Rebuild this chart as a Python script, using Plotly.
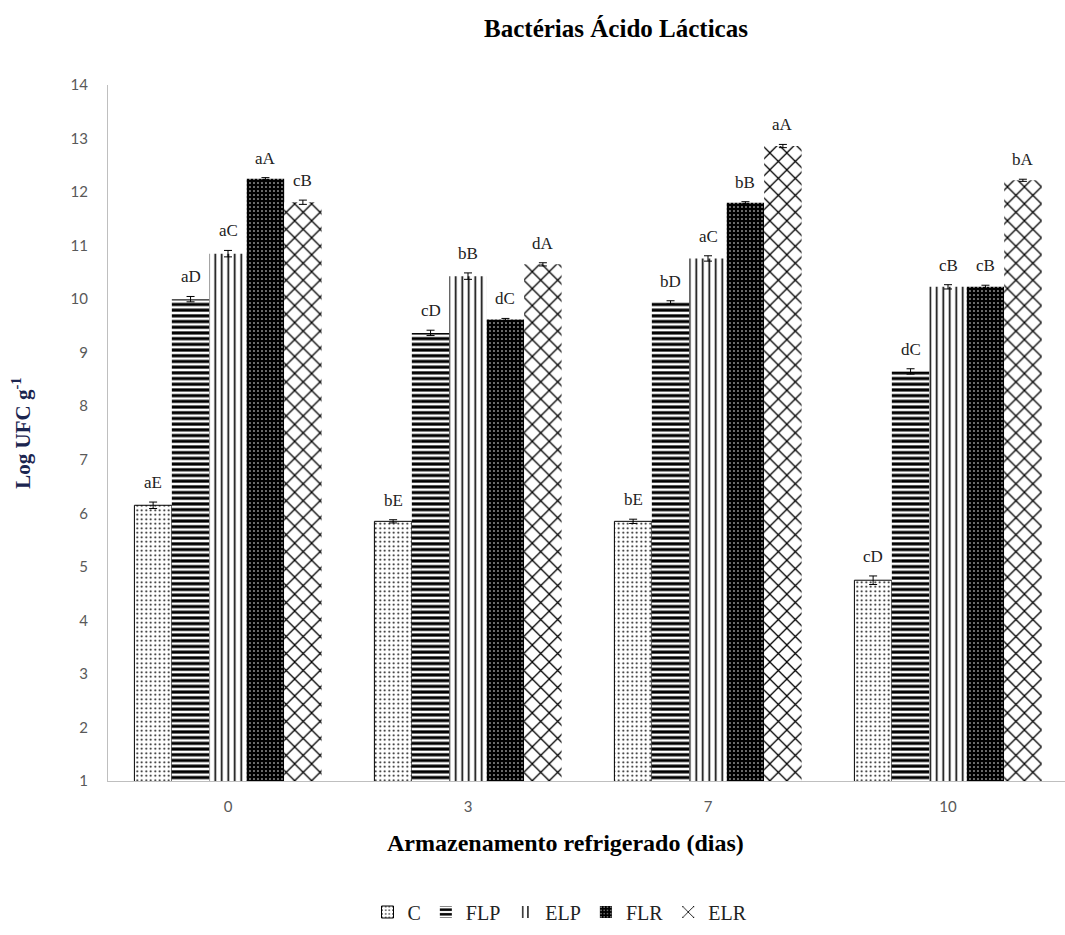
import plotly.graph_objects as go

days = ["0", "3", "7", "10"]
series = ["C", "FLP", "ELP", "FLR", "ELR"]

C_vals = [6.15, 5.85, 5.85, 4.75]
FLP_vals = [10.00, 9.37, 9.94, 8.65]
ELP_vals = [10.85, 10.43, 10.76, 10.23]
FLR_vals = [12.25, 9.62, 11.80, 10.23]
ELR_vals = [11.81, 10.65, 12.86, 12.22]

C_err = [0.06, 0.03, 0.04, 0.08]
FLP_err = [0.05, 0.05, 0.03, 0.05]
ELP_err = [0.06, 0.06, 0.05, 0.04]
FLR_err = [0.02, 0.02, 0.02, 0.03]
ELR_err = [0.04, 0.03, 0.03, 0.02]

C_lab = ["aE", "bE", "bE", "cD"]
FLP_lab = ["aD", "cD", "bD", "dC"]
ELP_lab = ["aC", "bB", "aC", "cB"]
FLR_lab = ["aA", "dC", "bB", "cB"]
ELR_lab = ["cB", "dA", "aA", "bA"]

values = [C_vals, FLP_vals, ELP_vals, FLR_vals, ELR_vals]
errors = [C_err, FLP_err, ELP_err, FLR_err, ELR_err]
labels = [C_lab, FLP_lab, ELP_lab, FLR_lab, ELR_lab]

patterns = [
    dict(shape=".", fgcolor="black", bgcolor="white", size=4.5, solidity=0.15, fillmode="replace"),
    dict(shape="-", fgcolor="black", bgcolor="white", size=5.7, solidity=0.55, fillmode="replace"),
    dict(shape="|", fgcolor="black", bgcolor="white", size=6.5, solidity=0.25, fillmode="replace"),
    dict(shape=".", fgcolor="white", bgcolor="black", size=4, solidity=0.12, fillmode="replace"),
    dict(shape="x", fgcolor="black", bgcolor="white", size=12, solidity=0.2, fillmode="replace"),
]
line_w = [1, 0, 0, 0, 0]

bargap = 0.22
fig = go.Figure()
for i, name in enumerate(series):
    fig.add_trace(go.Bar(
        x=days, y=values[i], name=name,
        marker=dict(color="white", pattern=patterns[i], line=dict(color="black", width=line_w[i])),
        error_y=dict(type="data", array=errors[i], color="black", thickness=1, width=4),
    ))

bw = (1 - bargap) / len(series)
annotations = []
for i in range(len(series)):
    for j in range(len(days)):
        annotations.append(dict(
            x=j + (i - 2) * bw, y=values[i][j] + errors[i][j], xref="x", yref="y",
            text=labels[i][j], showarrow=False, yanchor="bottom", yshift=8,
            font=dict(family="Liberation Serif", size=17, color="#222222"),
        ))

annotations.append(dict(
    x=(565 - 108) / (1065 - 108), y=-(858 - 781) / (781 - 85), xref="paper", yref="paper",
    text="<b>Armazenamento refrigerado (dias)</b>", showarrow=False,
    font=dict(family="Liberation Serif", size=24, color="black"),
))

fig.update_layout(
    width=1065, height=935,
    margin=dict(l=108, r=0, t=85, b=154),
    paper_bgcolor="white", plot_bgcolor="white",
    barmode="group", bargap=bargap, bargroupgap=0,
    showlegend=True,
    title=dict(text="<b>Bactérias Ácido Lácticas</b>", x=616 / 1065, xref="container", xanchor="center",
               y=1 - 28 / 935, yref="container", yanchor="middle",
               font=dict(family="Liberation Serif", size=25, color="black")),
    legend=dict(orientation="h", x=560 / 1065, xref="container", xanchor="center",
                y=1 - 912 / 935, yref="container", yanchor="middle",
                font=dict(family="Liberation Serif", size=20, color="#222222"),
                itemwidth=30, tracegroupgap=0),
    xaxis=dict(range=[-0.5, 3.4875], showline=True, linecolor="#bfbfbf", linewidth=1,
               showgrid=False, ticks="", ticklabelstandoff=12,
               tickfont=dict(family="Lato", size=15, color="#595959")),
    yaxis=dict(range=[1, 14], dtick=1, showline=True, linecolor="#bfbfbf", linewidth=1,
               showgrid=False, ticks="", ticklabelstandoff=16, zeroline=False,
               tickfont=dict(family="Lato", size=15, color="#595959"),
               title=dict(text="<b>Log UFC g<sup>-1</sup></b>", standoff=34,
                          font=dict(family="Liberation Serif", size=21, color="#1b2550"))),
    annotations=annotations,
)

fig.write_html("out.html")
